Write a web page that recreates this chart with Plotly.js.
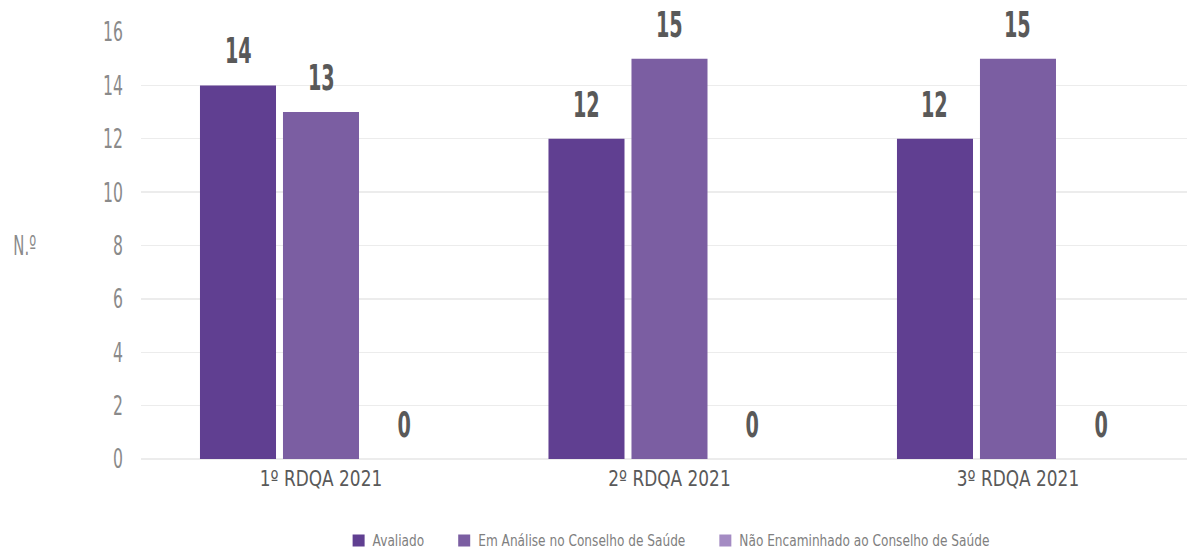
<!DOCTYPE html>
<html>
<head>
<meta charset="utf-8">
<script src="https://cdn.plot.ly/plotly-3.0.1.min.js"></script>
<style>
html,body{margin:0;padding:0;background:#fff;}
#chart{width:1187px;height:554px;}
</style>
</head>
<body>
<div id="chart"></div>
<script>
const categories = ["1º RDQA 2021", "2º RDQA 2021", "3º RDQA 2021"];
const seriesNames = ["Avaliado", "Em Análise no Conselho de Saúde", "Não Encaminhado ao Conselho de Saúde"];
const avaliado = [14, 12, 12];
const emAnalise = [13, 15, 15];
const naoEncaminhado = [0, 0, 0];
const yTicks = [0, 2, 4, 6, 8, 10, 12, 14, 16];

const FONT = "'DejaVu Sans', sans-serif";
const colors = ["#603f91", "#7b5ea2", "#a48bc3"];
const seriesValues = [avaliado, emAnalise, naoEncaminhado];

const traces = seriesValues.map((vals, i) => ({
  type: "bar",
  name: seriesNames[i],
  x: categories,
  y: vals,
  marker: {color: colors[i]},
  hoverinfo: "none"
}));

const slotPx = 83;
const annotations = [];
seriesValues.forEach((vals, i) => {
  vals.forEach((v, j) => {
    annotations.push({
      x: categories[j], y: v, xref: "x", yref: "y",
      text: String(v), showarrow: false,
      xanchor: "center", yanchor: "bottom",
      xshift: (i - 1) * slotPx, yshift: 12,
      font: {family: FONT, size: 35, color: "#595959", weight: "bold"},
      name: "datalabel"
    });
  });
});
annotations.push({
  xref: "paper", yref: "paper", x: -0.111, y: 0.5,
  text: "N.º", showarrow: false, xanchor: "center", yanchor: "middle",
  font: {family: FONT, size: 27, color: "#8a8a8a"}
});

const layout = {
  width: 1187, height: 554,
  margin: {l: 141, r: 0, t: 32, b: 95},
  paper_bgcolor: "#fff", plot_bgcolor: "#fff",
  barmode: "group", bargap: 0.2855, bargroupgap: 0.084,
  showlegend: true,
  legend: {
    orientation: "h", x: 0.5, xanchor: "center",
    y: 0.024, yanchor: "middle", yref: "container",
    font: {family: FONT, size: 15, color: "#808080"},
    itemsizing: "constant", tracegroupgap: 0
  },
  xaxis: {
    type: "category", range: [-0.5165, 2.485],
    showgrid: false, zeroline: false, showline: false,
    ticks: "", tickfont: {family: FONT, size: 22, color: "#595959"},
    ticklabelstandoff: 4
  },
  yaxis: {
    range: [0, 16], tickvals: yTicks, ticktext: yTicks.map(String),
    showgrid: true, gridcolor: "#ececec", gridwidth: 1.3,
    zeroline: true, zerolinecolor: "#ececec", zerolinewidth: 1.3,
    showline: false, ticks: "",
    tickfont: {family: FONT, size: 27, color: "#8a8a8a"},
    ticklabelstandoff: 17
  },
  annotations: annotations,
  font: {family: FONT}
};

// Narrow the glyphs to imitate the condensed typeface of the original
function squeeze(nodes, factor) {
  nodes.forEach(el => {
    if (!el.textContent) return;
    const L = el.getComputedTextLength();
    if (L > 0) {
      el.setAttribute("textLength", (L * factor).toFixed(2));
      el.setAttribute("lengthAdjust", "spacingAndGlyphs");
    }
  });
}

Plotly.newPlot("chart", traces, layout, {displayModeBar: false, staticPlot: true}).then(gd => {
  squeeze(gd.querySelectorAll(".ytick text"), 0.58);
  squeeze(gd.querySelectorAll(".xtick text"), 0.77);
  squeeze(gd.querySelectorAll(".annotation-text"), 0.55);

  // legend: narrow text and re-flow the items, centred on the plot area
  const items = Array.from(gd.querySelectorAll(".legend .traces"));
  if (!items.length) return;
  const widths = items.map(it => {
    const t = it.querySelector("text.legendtext");
    const L = t.getComputedTextLength() * 0.81;
    t.setAttribute("textLength", L.toFixed(2));
    t.setAttribute("lengthAdjust", "spacingAndGlyphs");
    t.setAttribute("x", "34");
    return L;
  });
  const TEXT_X = 34, GAP = 20;
  const positions = [];
  let cursor = 0;
  widths.forEach(w => { positions.push(cursor); cursor += TEXT_X + w + GAP; });
  const total = cursor - GAP;
  const fl = gd._fullLayout;
  const centre = fl._size.l + fl._size.w / 2;
  const ctm = items[0].parentNode.getScreenCTM();
  const startLocal = centre - total / 2 - ctm.e;
  items.forEach((it, i) => {
    const tr = it.getAttribute("transform") || "";
    const mm = tr.match(/translate\(\s*([-\d.e]+)[\s,]+([-\d.e]+)\s*\)/);
    const y = mm ? parseFloat(mm[2]) : 0;
    it.setAttribute("transform", `translate(${startLocal + positions[i]},${y})`);
  });
});
</script>
</body>
</html>
